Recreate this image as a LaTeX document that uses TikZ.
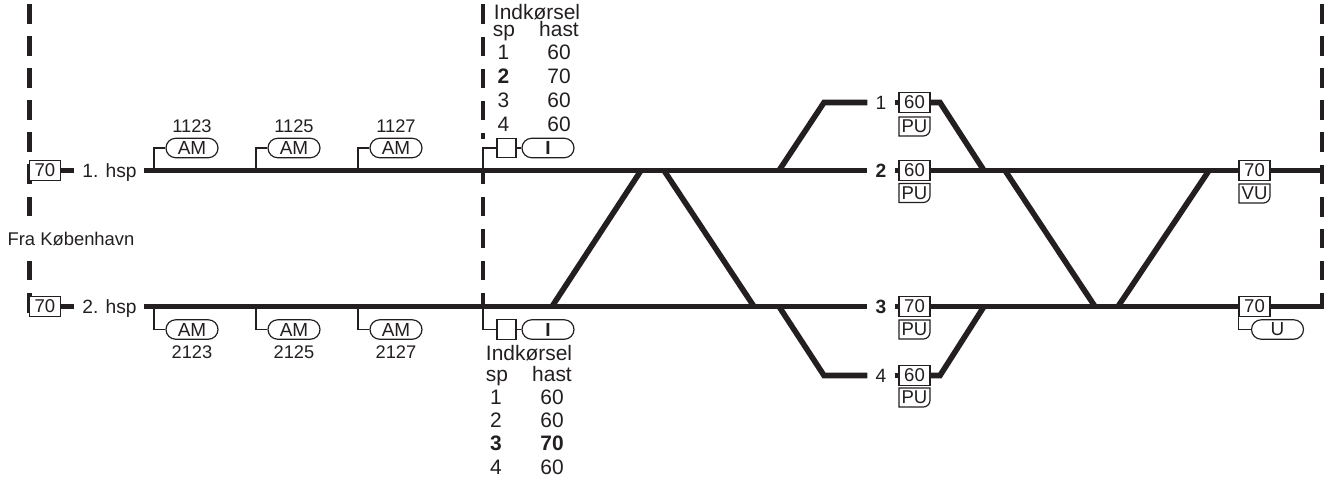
\documentclass[tikz,border=0pt]{standalone}
\usepackage{fontspec}
\setmainfont{Liberation Sans}
\usetikzlibrary{shapes.misc}
\definecolor{ink}{HTML}{231F20}
\tikzset{
  x=0.75pt,y=-0.75pt,
  every node/.style={text=ink},
  track/.style={draw=ink,line width=4.2pt,line join=miter},
  dashline/.style={draw=ink,line width=3.2pt},
  wire/.style={draw=ink,line width=0.9pt,line join=miter},
  sign/.style={draw=ink,line width=0.9pt,fill=white,minimum width=23.25pt,minimum height=15pt,inner sep=0pt,font=\fontsize{13.9}{14}\selectfont},
  smallbox/.style={draw=ink,line width=0.9pt,fill=white,minimum width=14.25pt,minimum height=14.6pt,inner sep=0pt},
  pill/.style={rounded rectangle,draw=ink,line width=0.9pt,fill=white,minimum width=39pt,minimum height=14.6pt,inner sep=0pt,font=\fontsize{14.2}{14}\selectfont},
  txt/.style={inner sep=0pt,text height=9.9pt,text depth=0pt,font=\fontsize{13.8}{14}\selectfont},
  tracklabel/.style={inner ysep=0pt,inner xsep=6pt,text height=10.2pt,text depth=0pt,font=\fontsize{14.4}{14}\selectfont},
  num/.style={inner sep=0pt,text height=9.7pt,text depth=0pt,font=\fontsize{13.7}{14}\selectfont},
  tbl/.style={inner sep=0pt,text height=11.2pt,text depth=0pt,font=\fontsize{15.7}{16}\selectfont},
  tblb/.style={inner sep=0pt,text height=11.2pt,text depth=0pt,font=\fontsize{15.7}{16}\selectfont\bfseries},
}
\newcommand{\punode}[4]{% name, left x, top y, text
  \coordinate (#1) at (#2+15.5,#3+9.5);
  \draw[wire,fill=white] (#2,#3) -- (#2+31,#3) [rounded corners=5pt] -- (#2+31,#3+19) [sharp corners] -- (#2,#3+19) -- cycle;
  \node[inner sep=0pt,font=\fontsize{13.9}{14}\selectfont] at (#1) {#4};
}
\begin{document}
\begin{tikzpicture}
\useasboundingbox (0,0) rectangle (1328,479);
% boundaries
\foreach \x/\ys in {29.5/{4/24,36/56,68/88,100/120,132/152,164/184,197/216,261/280,293/313},
                    483/{4/24,37/56,69/88,101/120,133/139,170/184,197/216,229/248,261/280,293/306},
                    1322/{4/24,36/56,68/88,100/120,132/152,165/184,197/217,229/248,261/280,293/308.5}}{
  \foreach \a/\b in \ys { \draw[dashline] (\x,\a) -- (\x,\b); }
}
% named points
\coordinate (hspA) at (144,170.5);
\coordinate (hspB) at (144,306.5);
\coordinate (endA) at (1322,170.5);
\coordinate (endB) at (1324,306.5);
\coordinate (a1) at (154,170.5);
\coordinate (a2) at (256,170.5);
\coordinate (a3) at (358,170.5);
\coordinate (a4) at (483,170.5);
\coordinate (b1) at (154,306.5);
\coordinate (b2) at (256,306.5);
\coordinate (b3) at (358,306.5);
\coordinate (b4) at (483,306.5);
\coordinate (u1) at (779,170.5);
\coordinate (u2) at (824,102.5);
\coordinate (u3) at (940,102.5);
\coordinate (u4) at (984,170.5);
\coordinate (d1) at (779,306.5);
\coordinate (d2) at (824,375.5);
\coordinate (d3) at (940,375.5);
\coordinate (d4) at (984,306.5);
\coordinate (x1) at (552,306.5);
\coordinate (x2) at (641,170.5);
\coordinate (x3) at (664,170.5);
\coordinate (x4) at (754,306.5);
\coordinate (y1) at (1005,170.5);
\coordinate (y2) at (1095,306.5);
\coordinate (y3) at (1118,306.5);
\coordinate (y4) at (1209,170.5);
% signs and labels on the tracks
\node[sign] (sA) at (45,170.5) {70};
\node[sign] (sB) at (45,306.5) {70};
\node[tracklabel] (hA) at (109.5,170.5) {1. hsp};
\node[tracklabel] (hB) at (109.5,306.5) {2. hsp};
\node[txt] (fra) at (71,239) {Fra København};
\node[tracklabel] (l1) at (881,102.5) {1};
\node[tracklabel,font=\fontsize{14.4}{14}\selectfont\bfseries] (l2) at (881,170.5) {2};
\node[tracklabel,font=\fontsize{14.4}{14}\selectfont\bfseries] (l3) at (881,306.5) {3};
\node[tracklabel] (l4) at (881,375.5) {4};
\node[sign] (s1) at (914.5,102.5) {60};
\node[sign] (s2) at (914.5,170.5) {60};
\node[sign] (s3) at (914.5,306.5) {70};
\node[sign] (s4) at (914.5,375.5) {60};
\node[sign] (s5) at (1254.5,170.5) {70};
\node[sign] (s6) at (1254.5,306.5) {70};
% tracks
\draw[track] (sA.east) -- (hA.west);
\draw[track] (sB.east) -- (hB.west);
\draw[track] (hspA) -- (l2.west);
\draw[track] (hspB) -- (l3.west);
\draw[track] (l1.east) -- (s1.west);
\draw[track] (l2.east) -- (s2.west);
\draw[track] (l3.east) -- (s3.west);
\draw[track] (l4.east) -- (s4.west);
\draw[track] (s2.east) -- (s5.west);
\draw[track] (s3.east) -- (s6.west);
\draw[track] (s5.east) -- (endA);
\draw[track] (s6.east) -- (endB);
\draw[track] (u1) -- (u2) -- (l1.west);
\draw[track] (s1.east) -- (u3) -- (u4);
\draw[track] (d1) -- (d2) -- (l4.west);
\draw[track] (s4.east) -- (d3) -- (d4);
\draw[track] (x1) -- (x2);
\draw[track] (x3) -- (x4);
\draw[track] (y1) -- (y2);
\draw[track] (y3) -- (y4);
% plates under signs
\punode{p1}{899}{117}{PU}
\punode{p2}{899}{183.5}{PU}
\punode{p3}{899}{320}{PU}
\punode{p4}{899}{388}{PU}
\punode{p5}{1239}{184}{VU}
% axle counters
\node[pill] (am1) at (192,148) {AM};
\node[pill] (am2) at (294,148) {AM};
\node[pill] (am3) at (396,148) {AM};
\node[pill] (am4) at (192,329.5) {AM};
\node[pill] (am5) at (294,329.5) {AM};
\node[pill] (am6) at (396,329.5) {AM};
\draw[wire] (a1) |- (am1.west);
\draw[wire] (a2) |- (am2.west);
\draw[wire] (a3) |- (am3.west);
\draw[wire] (b1) |- (am4.west);
\draw[wire] (b2) |- (am5.west);
\draw[wire] (b3) |- (am6.west);
\node[num] (n1) at (192,126) {1123};
\node[num] (n2) at (294,126) {1125};
\node[num] (n3) at (396,126) {1127};
\node[num] (n4) at (192,352) {2123};
\node[num] (n5) at (294,352) {2125};
\node[num] (n6) at (396,352) {2127};
% entry signals
\node[smallbox] (q1) at (506.5,148) {};
\node[smallbox] (q2) at (506.5,329.5) {};
\node[pill,font=\fontsize{14.2}{14}\selectfont\bfseries] (i1) at (548,148) {I};
\node[pill,font=\fontsize{14.2}{14}\selectfont\bfseries] (i2) at (548,329.5) {I};
\draw[wire] (a4) |- (q1.west);
\draw[wire] (b4) |- (q2.west);
\draw[wire] (q1.east) -- (i1.west);
\draw[wire] (q2.east) -- (i2.west);
\node[pill,minimum width=39pt] (uu) at (1277.5,329.5) {U};
\draw[wire] (s6.south west) |- (uu.west);
% upper table
\node[tbl] (t0) at (537,12) {Indkørsel};
\node[tbl] (t1) at (504,29) {sp};
\node[tbl] (t2) at (559,29) {hast};
\node[tbl] (t3) at (503.5,52) {1};
\node[tbl] (t4) at (559,52) {60};
\node[tblb] (t5) at (503.5,76) {2};
\node[tbl] (t6) at (559,76) {70};
\node[tbl] (t7) at (503.5,100) {3};
\node[tbl] (t8) at (559,100) {60};
\node[tbl] (t9) at (503.5,124) {4};
\node[tbl] (t10) at (559,124) {60};
% lower table
\node[tbl] (v0) at (529,353) {Indkørsel};
\node[tbl] (v1) at (497,374.5) {sp};
\node[tbl] (v2) at (552,374.5) {hast};
\node[tbl] (v3) at (496,397) {1};
\node[tbl] (v4) at (552,397) {60};
\node[tbl] (v5) at (496,420) {2};
\node[tbl] (v6) at (552,420) {60};
\node[tblb] (v7) at (496,443) {3};
\node[tblb] (v8) at (552,443) {70};
\node[tbl] (v9) at (496,467) {4};
\node[tbl] (v10) at (552,467) {60};
\end{tikzpicture}
\end{document}
